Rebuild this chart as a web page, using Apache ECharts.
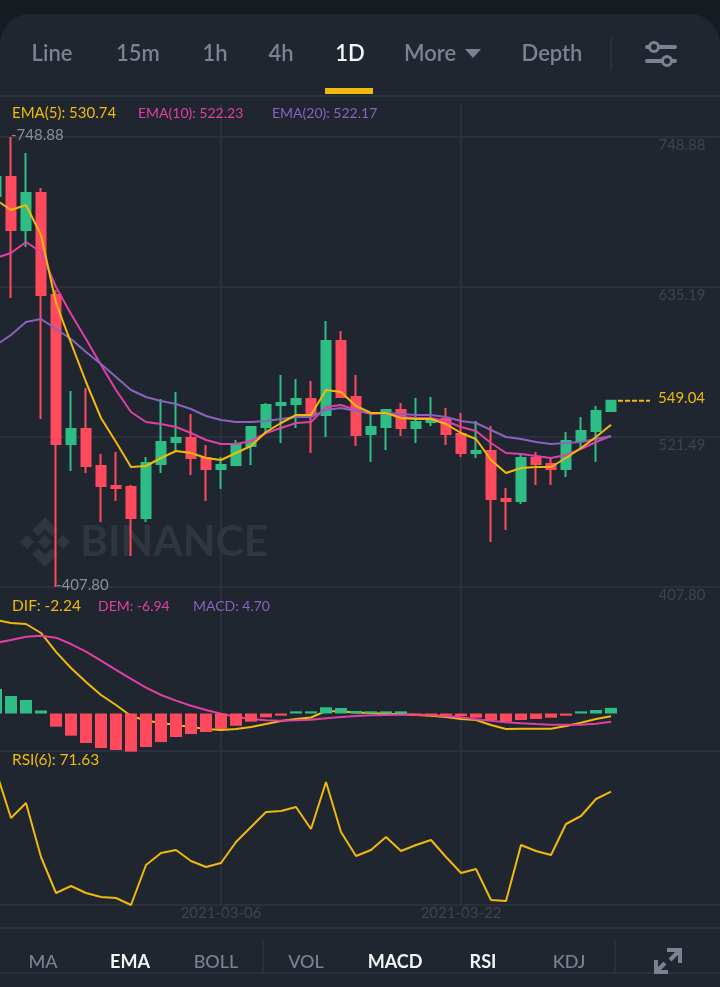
<!DOCTYPE html>
<html><head><meta charset="utf-8">
<style>html,body{margin:0;padding:0;background:#161B22}#c{width:720px;height:987px}</style>
<script src="https://cdn.jsdelivr.net/npm/echarts@6/dist/echarts.min.js"></script>
</head><body><div id="c"></div>
<script>
const dates=['2021-02-19','2021-02-20','2021-02-21','2021-02-22','2021-02-23','2021-02-24','2021-02-25','2021-02-26','2021-02-27','2021-02-28','2021-03-01','2021-03-02','2021-03-03','2021-03-04','2021-03-05','2021-03-06','2021-03-07','2021-03-08','2021-03-09','2021-03-10','2021-03-11','2021-03-12','2021-03-13','2021-03-14','2021-03-15','2021-03-16','2021-03-17','2021-03-18','2021-03-19','2021-03-20','2021-03-21','2021-03-22','2021-03-23','2021-03-24','2021-03-25','2021-03-26','2021-03-27','2021-03-28','2021-03-29','2021-03-30','2021-03-31','2021-04-01'];
const dateTicks=['2021-03-06','2021-03-22'];
const opens=[704.16,718.56,678.39,706.43,629.12,516.19,527.56,499.51,484.35,483.60,460.10,501.03,517.70,520.73,505.57,497.24,500.27,514.67,529.07,545.75,546.51,550.30,538.17,594.26,551.81,523.76,529.07,541.96,528.31,532.86,535.13,523.76,509.36,510.88,474.50,472.99,505.57,501.03,497.24,518.46,526.03,541.20];
const closes=[718.56,678.39,706.43,629.12,516.19,527.56,499.51,484.35,482.84,460.10,501.78,517.70,520.73,505.57,497.24,500.27,516.19,529.07,545.75,547.27,550.30,538.17,594.26,551.81,523.01,529.07,541.96,528.31,532.86,535.13,523.76,509.36,510.88,474.50,472.99,505.57,501.03,497.24,518.46,526.03,541.20,549.04];
const lows=[697.34,626.85,665.50,535.13,407.80,495.72,494.20,457.07,472.99,431.30,457.07,494.20,510.12,492.69,472.99,482.07,500.27,500.27,524.52,516.95,528.31,509.36,521.49,551.05,514.67,502.54,511.64,522.25,516.95,529.83,515.43,506.36,505.57,441.91,451.00,470.71,485.11,485.11,491.18,511.64,502.54,541.20];
const highs=[727.66,748.88,736.75,710.22,632.91,556.36,558.63,508.61,510.12,485.11,506.36,550.30,555.60,538.90,515.43,506.36,519.22,529.83,547.27,568.48,565.45,563.93,609.42,601.83,568.48,538.17,542.72,547.27,551.05,551.81,543.47,539.69,533.62,529.83,482.83,507.85,510.12,505.57,525.29,536.65,544.99,549.04];
const ema5=[701.13,693.55,697.34,674.59,623.06,592.76,563.18,535.89,517.70,498.76,499.51,505.57,510.88,509.36,505.57,504.06,509.36,514.67,525.28,532.10,538.17,538.17,557.12,555.60,544.99,539.69,539.69,535.89,535.13,535.13,531.35,524.52,519.97,504.06,494.21,498.00,498.76,498.76,505.57,513.15,521.49,530.74];
const ema10=[657.17,660.96,669.29,661.71,635.19,614.72,595.77,576.06,557.12,540.44,532.86,531.35,529.07,524.52,519.22,516.19,516.19,518.46,524.52,528.31,532.10,532.86,544.23,545.75,541.96,538.93,539.69,536.65,535.89,535.89,533.62,529.07,526.04,516.95,509.36,508.60,507.09,505.57,507.85,512.40,517.70,522.23];
const ema20=[591.22,598.81,608.66,610.93,603.35,595.77,585.91,576.82,566.97,557.12,551.81,548.78,546.50,542.71,537.41,534.38,532.86,532.86,533.62,535.13,536.65,536.65,541.96,543.47,541.20,539.69,539.69,538.93,538.17,538.17,536.65,533.62,532.10,526.80,521.49,519.97,517.70,516.19,516.95,517.70,519.97,522.17];
const dif=[77.9,75.4,74.6,67.1,51.3,37.9,26.3,15.4,7.1,-2.1,-5.8,-7.9,-9.6,-11.3,-12.9,-13.8,-12.9,-11.3,-8.8,-6.3,-4.6,-3.3,2.1,1.7,0.8,0.4,-0.4,-0.4,-1.3,-1.8,-2.9,-4.6,-5.4,-9.6,-12.9,-12.7,-12.7,-12.7,-10.4,-7.7,-4.6,-2.24];
const dem=[58.8,61.3,64,64.8,63.2,57.9,51.5,44,36.3,28.8,21.5,15.4,10.7,6.5,2.9,-0.2,-2.9,-4.6,-5.7,-6,-5.7,-5.2,-4,-2.9,-2.1,-1.5,-1.3,-1,-1,-1.3,-2.1,-3.2,-4.8,-6,-7.3,-8.2,-8.8,-9.3,-9.4,-9.3,-8.5,-6.94];
const macd=[20.4,14.6,11.3,2.5,-11,-18.5,-24.6,-28.8,-30.4,-31.8,-27.9,-23.8,-19.6,-17.1,-15.4,-12.9,-10.2,-6.8,-3.2,-1.8,1.8,1.8,5.2,4.6,2.1,1.8,1.8,1.8,-1.8,-1.8,-1.8,-2.1,-3.5,-5.4,-6.8,-5.4,-4.6,-3.5,-1.8,1.8,2.9,4.7];
const rsi6=[79.91,61.11,67.11,45.51,31.11,33.91,31.11,29.51,29.11,26.31,42.31,47.11,48.31,43.91,41.51,43.11,51.51,57.51,63.51,63.91,65.51,56.71,75.51,55.51,45.91,48.31,53.51,47.91,50.31,52.31,45.51,39.11,40.71,28.31,27.91,50.31,47.91,46.31,58.71,61.91,68.71,71.63];
const priceTicks=[407.80,521.49,635.19,748.88];
const lastPrice=549.04;
const tabs=[['Line',52],['15m',138],['1h',215],['4h',281],['1D',350],['More',430],['Depth',552]];
const tools=[['MA',43],['EMA',130],['BOLL',216],['VOL',306],['MACD',395],['RSI',483],['KDJ',569]];
const activeItems=['1D','EMA','MACD','RSI'];

const FONT='Lato',BG='#1F2630',DARK='#161B22',LINE='#2B313C',DIM='#3E444F',GREY='#7B8291',
      UP='#2EBD85',DOWN='#FF4A5E',Y='#F0B90B',M='#E23FA5',P='#8B62BE';
const cats=dates.concat(Array(49-dates.length).fill(''));
const candle=dates.map((d,i)=>[opens[i],closes[i],lows[i],highs[i]]);
const isDate=(i,v)=>dateTicks.includes(v);
const xBase=(g,extra)=>Object.assign({type:'category',gridIndex:g,data:cats,boundaryGap:true,
  axisTick:{show:false},axisLabel:{show:false},axisLine:{show:false},
  splitLine:{show:true,interval:isDate,alignWithLabel:true,lineStyle:{color:LINE,width:2}}},extra||{});
const line=(data,color,x,w,z)=>({type:'line',data,xAxisIndex:x,yAxisIndex:x,symbol:'none',showSymbol:false,
  lineStyle:{color,width:w},itemStyle:{color},z:z||5,silent:true,clip:false});
const txt=(t,x,y,fill,size,weight,align,extra)=>Object.assign({type:'text',x,y,z:20,silent:true,
  style:{text:t,fill,font:(weight||400)+' '+size+'px '+FONT,textAlign:align||'left',textVerticalAlign:'middle'}},extra||{});
const rect=(x,y,w,h,fill,z,r)=>({type:'rect',z:z==null?20:z,silent:true,shape:{x,y,width:w,height:h,r:r||0},style:{fill}});
const poly=(pts,fill)=>({type:'polygon',z:1,silent:true,shape:{points:pts},style:{fill}});
const WM='#30363F';

const chart=echarts.init(document.getElementById('c'),null,{renderer:'canvas'});
const base=[
  rect(0,14,720,973,BG,-5,[30,30,0,0]),
  rect(0,95,720,2,LINE,1),
  rect(325,88,48,6,Y),
  rect(610,38,2,32,LINE),
  ...tabs.map(t=>txt(t[0],t[1],54,activeItems.includes(t[0])?'#F5F6F8':GREY,22,600,'center')),
  poly([[465,49],[481,49],[473,58]],GREY),
  rect(645,45,32,4,GREY,20,2),rect(645,59,32,4,GREY,20,2),
  {type:'circle',z:21,silent:true,shape:{cx:654,cy:47,r:4.5},style:{fill:BG,stroke:GREY,lineWidth:3}},
  {type:'circle',z:21,silent:true,shape:{cx:667,cy:61,r:4.5},style:{fill:BG,stroke:GREY,lineWidth:3}},
  txt('EMA(5): 530.74',12,113,Y,15),txt('EMA(10): 522.23',138,113,M,14),txt('EMA(20): 522.17',272,113,P,14),
  txt('DIF: -2.24',12,606,Y,15.5),txt('DEM: -6.94',98,606,M,14),txt('MACD: 4.70',193,606,P,14),
  txt('RSI(6): 71.63',12,760,Y,15.5),
  poly([[45,517],[58,530],[52,536],[45,529],[38,536],[32,530]],WM),
  poly([[45,567],[58,554],[52,548],[45,555],[38,548],[32,554]],WM),
  poly([[45,535],[52,542],[45,549],[38,542]],WM),
  poly([[27,535],[34,542],[27,549],[20,542]],WM),
  poly([[63,535],[70,542],[63,549],[56,542]],WM),
  txt('BINANCE',80,542,WM,42.5,700,'left',{z:1}),
  rect(0,927,720,2,LINE,1),rect(0,972,720,2,LINE,1),
  rect(262,941,2,31,LINE,1),rect(614,941,2,31,LINE,1),
  ...tools.map(t=>txt(t[0],t[1],962,activeItems.includes(t[0])?'#F5F6F8':GREY,18,activeItems.includes(t[0])?700:500,'center')),
  {type:'polyline',z:20,silent:true,shape:{points:[[667,950],[680,950],[680,963]]},style:{stroke:GREY,lineWidth:4,fill:null}},
  {type:'line',z:20,silent:true,shape:{x1:679,y1:951,x2:670,y2:960},style:{stroke:GREY,lineWidth:4}},
  {type:'polyline',z:20,silent:true,shape:{points:[[656,960],[656,972],[668,972]]},style:{stroke:GREY,lineWidth:4,fill:null}},
  {type:'line',z:20,silent:true,shape:{x1:657,y1:971,x2:665,y2:963},style:{stroke:GREY,lineWidth:4}}
];
chart.setOption({
  animation:false,backgroundColor:DARK,
  graphic:{elements:base},
  grid:[
    {left:-11.5,top:104,width:735,height:483,outerBoundsMode:'none'},
    {left:-11.5,top:587,width:735,height:164,outerBoundsMode:'none'},
    {left:-11.5,top:751,width:735,height:154,outerBoundsMode:'none'}
  ],
  xAxis:[
    xBase(0),
    xBase(1,{axisLine:{show:true,onZero:false,lineStyle:{color:LINE,width:2}}}),
    xBase(2,{axisLine:{show:true,onZero:false,lineStyle:{color:LINE,width:2}},
      axisLabel:{show:true,interval:isDate,color:DIM,fontFamily:FONT,fontSize:15,margin:1,hideOverlap:false}})
  ],
  yAxis:[
    {type:'value',gridIndex:0,position:'right',min:407.80,max:773.89,scale:true,
      axisLine:{show:false},axisTick:{show:false,customValues:priceTicks},
      axisLabel:{inside:true,customValues:priceTicks,margin:18,color:DIM,fontFamily:FONT,fontSize:15,
        verticalAlign:'top',padding:[1,0,0,0],formatter:v=>v.toFixed(2)},
      splitLine:{show:true,lineStyle:{color:LINE,width:2}}},
    {type:'value',gridIndex:1,min:-31.25,max:105.42,axisLine:{show:false},axisTick:{show:false},axisLabel:{show:false},splitLine:{show:false}},
    {type:'value',gridIndex:2,min:26.31,max:87.91,axisLine:{show:false},axisTick:{show:false},axisLabel:{show:false},splitLine:{show:false}}
  ],
  series:[
    {type:'candlestick',data:candle,xAxisIndex:0,yAxisIndex:0,barWidth:10,z:3,silent:true,clip:false,
      itemStyle:{color:UP,color0:DOWN,borderColor:UP,borderColor0:DOWN,borderWidth:2},
      markPoint:{symbol:'circle',symbolSize:0,silent:true,animation:false,
        label:{show:true,position:'right',distance:0,color:'#8A909A',fontFamily:FONT,fontSize:15,formatter:p=>'-'+p.value.toFixed(2)},
        data:[{coord:[highs.indexOf(Math.max(...highs)),Math.max(...highs)],value:Math.max(...highs),label:{offset:[0,-2]}},
              {coord:[lows.indexOf(Math.min(...lows)),Math.min(...lows)],value:Math.min(...lows),label:{offset:[0,-2]}}]}},
    line(ema5,Y,0,2,6),line(ema10,M,0,2,5),line(ema20,P,0,2,5),
    line(dif,Y,1,2,3),line(dem,M,1,2,3),
    {type:'bar',data:macd,xAxisIndex:1,yAxisIndex:1,barWidth:12,z:4,silent:true,clip:false,
      itemStyle:{color:p=>p.value>=0?UP:DOWN}},
    line(rsi6,Y,2,2)
  ]
});
const py=chart.convertToPixel({yAxisIndex:0},lastPrice);
const px=chart.convertToPixel({xAxisIndex:0},dates.length-1);
chart.setOption({graphic:{elements:base.concat([
  {type:'line',z:20,silent:true,shape:{x1:px+7,y1:py,x2:650,y2:py},style:{stroke:Y,lineWidth:2,lineDash:[5,2]}},
  txt(lastPrice.toFixed(2),658,py-2,Y,15)
])}});
</script></body></html>
